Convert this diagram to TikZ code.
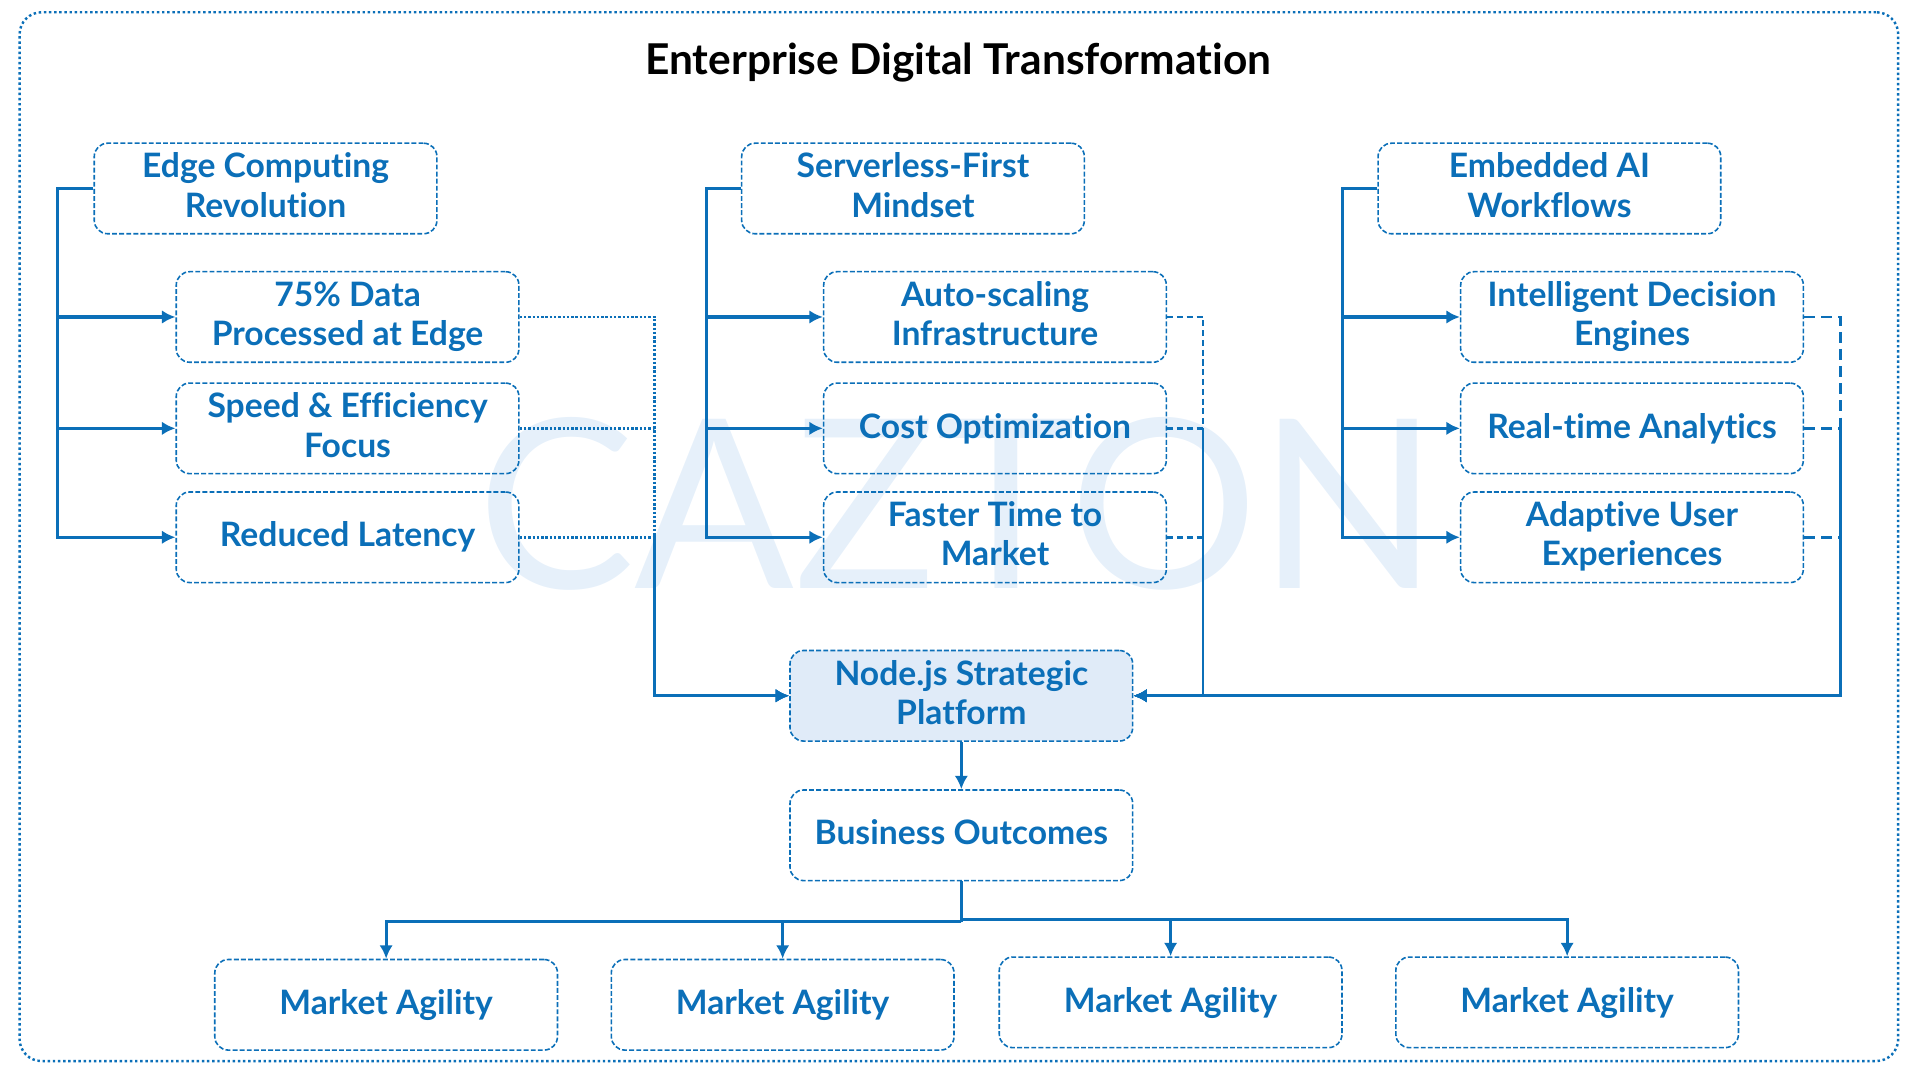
\documentclass[tikz,border=0pt]{standalone}
\usepackage{fontspec}
\setmainfont[Ligatures=NoCommon]{Lato}
\usetikzlibrary{arrows.meta}
\definecolor{azure}{HTML}{0B6FB8}
\definecolor{paleazure}{HTML}{E0EBF8}
\definecolor{markazure}{HTML}{E6F0FA}
\tikzset{
  boxbase/.style={draw=azure, dash pattern=on 4pt off 1.8pt, line width=1.3pt, rounded corners=11pt, minimum width=280pt,
    minimum height=74pt, align=center, text=azure, inner sep=0pt,
    font=\fontsize{27.5}{32}\selectfont\bfseries},
  boxnode/.style={boxbase, execute at begin node=\rule{0pt}{25.4pt}, execute at end node=\rule[-5.6pt]{0pt}{5.6pt}},
  oneline/.style={boxbase, execute at begin node=\rule{0pt}{23.9pt}, execute at end node=\rule[-8.1pt]{0pt}{8.1pt}},
  flow/.style={draw=azure, solid, line width=2.6pt, ->, >={Latex[length=11pt,width=11pt]}},
  plainflow/.style={draw=azure, solid, line width=2.6pt},
  dotflow/.style={draw=azure, line width=2.2pt, dash pattern=on 2pt off 1.5pt, ->, >={Latex[length=11pt,width=11pt]}},
  dashflow/.style={draw=azure, line width=2.2pt, dash pattern=on 9pt off 5pt, ->, >={Latex[length=11pt,width=11pt]}},
}
\begin{document}
\begin{tikzpicture}[x=1pt, y=-1pt]
  \useasboundingbox (0,0) rectangle (1568,881.6);
  \node(Mark) at (782.5,412) {\fontsize{193}{193}\selectfont\textcolor{markazure}{CAZTON}};
  \node(Frame) [draw=azure, line width=2pt, dash pattern=on 2pt off 2.2pt, rounded corners=18pt, minimum width=1535pt, minimum height=857pt] at (783.5,438.5) {};
  \node(Title) at (783,51) {\fontsize{34.7}{40}\selectfont\bfseries Enterprise Digital Transformation};
  % edge column
  \node[boxnode](Edge) at (217,154) {Edge Computing\\Revolution};
  \node[boxnode](EdgeA) at (284,259) {75\% Data\\Processed at Edge};
  \node[boxnode](EdgeB) at (284,350) {Speed \& Efficiency\\Focus};
  \node[oneline](EdgeC) at (284,439) {Reduced Latency};
  % serverless column
  \node[boxnode](Serv) at (746,154) {Serverless-First\\Mindset};
  \node[boxnode](ServA) at (813,259) {Auto-scaling\\Infrastructure};
  \node[oneline](ServB) at (813,350) {Cost Optimization};
  \node[boxnode](ServC) at (813,439) {Faster Time to\\Market};
  % ai column
  \node[boxnode](Embed) at (1266,154) {Embedded AI\\Workflows};
  \node[boxnode](EmbedA) at (1333.5,259) {Intelligent Decision\\Engines};
  \node[oneline](EmbedB) at (1333.5,350) {Real-time Analytics};
  \node[boxnode](EmbedC) at (1333.5,439) {Adaptive User\\Experiences};
  % centre
  \node[boxnode, fill=paleazure](Platform) at (785.5,568.5) {Node.js Strategic\\Platform};
  \node[oneline](Outcome) at (785.5,682.5) {Business Outcomes};
  \node[oneline](MarketA) at (315.5,821) {Market Agility};
  \node[oneline](MarketB) at (639.5,821) {Market Agility};
  \node[oneline](MarketC) at (956.5,819) {Market Agility};
  \node[oneline](MarketD) at (1280.5,819) {Market Agility};
  % bends
  \coordinate(EdgeBus) at (47,154);
  \coordinate(ServBus) at (577,154);
  \coordinate(EmbedBus) at (1097,154);
  \coordinate(DotBus) at (535,259);
  \coordinate(DashBus) at (983,259);
  \coordinate(LongBus) at (1504,259);
  \coordinate(LowBus) at (785.5,753);
  \coordinate(HighBus) at (785.5,751);
  % into the columns
  \foreach \kid in {EdgeA,EdgeB,EdgeC}
    \draw[flow] (Edge.west) -- (EdgeBus) |- (\kid.west);
  \foreach \kid in {ServA,ServB,ServC}
    \draw[flow] (Serv.west) -- (ServBus) |- (\kid.west);
  \foreach \kid in {EmbedA,EmbedB,EmbedC}
    \draw[flow] (Embed.west) -- (EmbedBus) |- (\kid.west);
  % into the platform
  \foreach \kid in {EdgeA,EdgeB,EdgeC}
    \draw[dotflow] (\kid.east) -- (DotBus |- \kid.east) |- (Platform.west);
  \foreach \kid in {ServA,ServB,ServC}
    \draw[dashflow, dash pattern=on 5pt off 3pt] (\kid.east) -- (DashBus |- \kid.east) |- (Platform.east);
  \foreach \kid in {EmbedA,EmbedB,EmbedC}
    \draw[dashflow] (\kid.east) -- (LongBus |- \kid.east) |- (Platform.east);
  % out of the platform
  \draw[flow] (Platform.south) -- (Outcome.north);
  \draw[plainflow] (Outcome.south) -- (LowBus);
  \foreach \kid in {MarketA,MarketB}
    \draw[flow] (LowBus) -| (\kid.north);
  \foreach \kid in {MarketC,MarketD}
    \draw[flow] (HighBus) -| (\kid.north);
\end{tikzpicture}
\end{document}
